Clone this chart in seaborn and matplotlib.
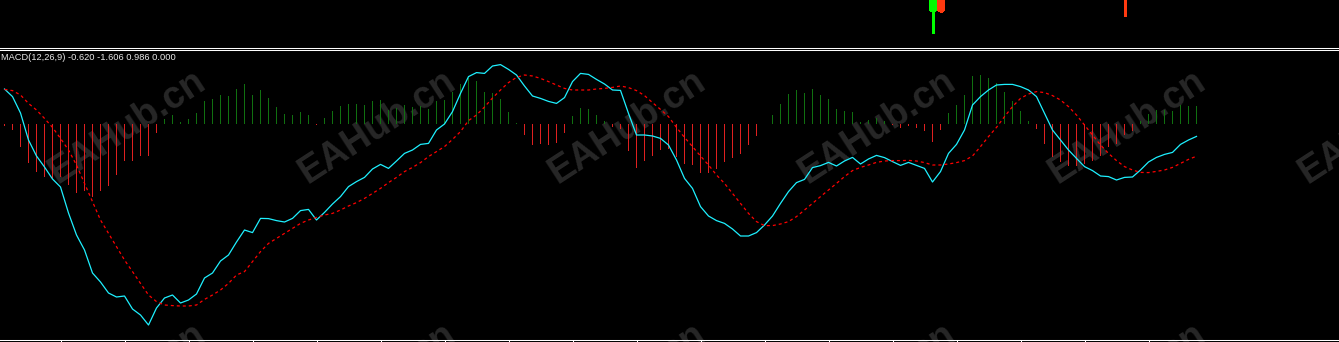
import numpy as np
import pandas as pd
import matplotlib
matplotlib.use("Agg")
import matplotlib.pyplot as plt
from matplotlib.lines import Line2D
import seaborn as sns

# ---------------- data ----------------
macd_main = [
    1.75, 1.37, 0.55, -0.80, -1.60, -2.15, -2.75, -3.15, -4.45, -5.55,
    -6.30, -7.45, -7.90, -8.45, -8.65, -8.60, -9.25, -9.55, -10.05, -9.20,
    -8.70, -8.55, -8.95, -8.80, -8.50, -7.70, -7.45, -6.85, -6.55, -5.90,
    -5.30, -5.43, -4.72, -4.73, -4.83, -4.90, -4.72, -4.33, -4.27, -4.80,
    -4.42, -4.00, -3.63, -3.13, -2.88, -2.67, -2.25, -2.02, -2.22, -1.85,
    -1.47, -1.30, -1.02, -0.97, -0.30, 0.00, 0.62, 1.53, 2.37, 2.57,
    2.53, 2.90, 2.97, 2.73, 2.45, 1.90, 1.40, 1.28, 1.13, 1.03,
    1.32, 2.12, 2.53, 2.48, 2.23, 2.00, 1.70, 1.68, 0.53, -0.55,
    -0.55, -0.60, -0.72, -1.05, -1.80, -2.72, -3.22, -4.13, -4.60, -4.83,
    -4.97, -5.25, -5.60, -5.60, -5.43, -5.05, -4.60, -3.97, -3.38, -2.93,
    -2.77, -2.18, -2.08, -1.92, -2.10, -1.85, -1.67, -2.00, -1.75, -1.57,
    -1.68, -1.88, -2.07, -1.92, -2.07, -2.22, -2.90, -2.38, -1.47, -1.02,
    -0.30, 0.95, 1.37, 1.70, 1.95, 1.98, 1.98, 1.87, 1.70, 1.37,
    0.53, -0.30, -0.80, -1.30, -1.72, -2.13, -2.33, -2.60, -2.63, -2.80,
    -2.67, -2.65, -2.30, -1.90, -1.67, -1.52, -1.42, -1.02, -0.80, -0.62,
]
macd_signal = [
    1.73, 1.67, 1.45, 1.03, 0.70, 0.28, -0.17, -0.72, -1.30, -2.05,
    -2.97, -3.88, -4.80, -5.47, -6.13, -6.80, -7.38, -7.97, -8.55, -8.88,
    -9.05, -9.08, -9.10, -9.10, -9.05, -8.77, -8.55, -8.30, -7.97, -7.55,
    -7.38, -6.88, -6.38, -5.97, -5.72, -5.47, -5.22, -4.97, -4.80, -4.67,
    -4.55, -4.47, -4.30, -4.10, -3.93, -3.72, -3.47, -3.22, -2.93, -2.67,
    -2.38, -2.17, -1.93, -1.63, -1.38, -1.13, -0.77, -0.38, 0.17, 0.45,
    0.85, 1.30, 1.70, 2.07, 2.33, 2.45, 2.40, 2.28, 2.12, 1.95,
    1.78, 1.70, 1.70, 1.70, 1.75, 1.78, 1.83, 1.90, 1.82, 1.67,
    1.42, 1.07, 0.73, 0.37, -0.17, -0.67, -1.13, -1.60, -2.05, -2.55,
    -2.97, -3.47, -3.97, -4.47, -4.88, -5.08, -5.08, -5.00, -4.88, -4.63,
    -4.30, -3.97, -3.63, -3.30, -2.97, -2.63, -2.33, -2.17, -2.05, -1.92,
    -1.85, -1.83, -1.83, -1.82, -1.85, -1.93, -2.05, -2.05, -2.00, -1.93,
    -1.83, -1.60, -1.13, -0.63, -0.17, 0.37, 0.87, 1.28, 1.50, 1.62,
    1.57, 1.42, 1.20, 0.87, 0.45, -0.05, -0.55, -1.05, -1.47, -1.83,
    -2.13, -2.30, -2.42, -2.43, -2.37, -2.30, -2.17, -1.97, -1.77, -1.61,
]
macd_hist = [
    -0.10, -0.30, -1.15, -1.95, -2.40, -2.65, -2.75, -2.65, -3.05, -3.45,
    -3.35, -3.65, -3.35, -3.10, -2.55, -1.85, -1.85, -1.60, -1.60, -0.45,
    0.25, 0.45, 0.10, 0.25, 0.55, 1.15, 1.25, 1.45, 1.40, 1.75,
    2.00, 1.45, 1.70, 1.30, 0.85, 0.50, 0.45, 0.60, 0.45, -0.05,
    0.30, 0.65, 0.90, 1.00, 1.00, 0.95, 1.15, 1.20, 0.70, 0.80,
    0.95, 0.85, 0.90, 0.75, 1.15, 1.20, 1.60, 2.00, 2.30, 2.15,
    1.60, 1.55, 1.25, 0.60, 0.05, -0.55, -1.05, -1.00, -1.05, -0.95,
    -0.45, 0.40, 0.80, 0.75, 0.45, 0.15, -0.15, -0.25, -1.35, -2.20,
    -1.85, -1.60, -1.30, -1.25, -1.65, -2.00, -2.05, -2.45, -2.45, -2.25,
    -1.90, -1.70, -1.50, -1.05, -0.60, 0.00, 0.45, 1.00, 1.50, 1.70,
    1.55, 1.75, 1.45, 1.25, 0.75, 0.65, 0.60, 0.10, 0.20, 0.30,
    0.15, -0.05, -0.20, -0.10, -0.20, -0.35, -0.90, -0.30, 0.55, 0.95,
    1.45, 2.40, 2.45, 2.30, 2.05, 1.60, 1.15, 0.65, 0.15, -0.25,
    -1.00, -1.65, -1.90, -2.10, -2.10, -2.00, -1.85, -1.60, -1.15, -1.00,
    -0.55, -0.35, 0.15, 0.50, 0.70, 0.70, 0.65, 0.95, 0.90, 0.90,
]
label_text = "MACD(12,26,9) -0.620 -1.606 0.986 0.000"
tick_bars = [7, 15, 23, 31, 39, 47, 55, 63, 71, 79, 87, 95, 103, 111, 119, 127, 135, 143]

# top price-panel candles (only their lower parts are visible)
candle_idx = [116, 117, 140]
candle_open = [1.3086, 1.3115, 1.3130]
candle_close = [1.3110, 1.3086, 1.3110]
candle_high = [1.3125, 1.3122, 1.3140]
candle_low = [1.3063, 1.3084, 1.3080]

watermark = "EAHub.cn"

# ---------------- figure ----------------
W, H = 1339, 342
fig = plt.figure(figsize=(W / 100, H / 100), dpi=100, facecolor="black")

x_left = -0.5625
x_right = W / 8 + x_left

# watermarks (behind everything)
for cy in (127, 380):
    for cx in (127, 377, 627, 877, 1127, 1377):
        fig.text(cx / W, 1 - cy / H, watermark, color="#272727", fontsize=27,
                 fontweight="bold", family="Liberation Sans", rotation=33,
                 ha="center", va="center", rotation_mode="anchor", zorder=-5)

# ---- top price panel ----
axp = fig.add_axes([0, (H - 46) / H, 1, 46 / H])
axp.set_facecolor("none")
axp.set_xlim(x_left, x_right)
axp.set_ylim(1.3050, 1.3096)
for i, o, c, hi, lo in zip(candle_idx, candle_open, candle_close, candle_high, candle_low):
    up = c >= o
    col = "#00ff00" if up else "#ff3a10"
    axp.vlines(i, lo, hi, color=col, lw=0.75, antialiased=False)
    axp.bar(i, abs(c - o), bottom=min(o, c), width=0.6,
            color=col if up else "#d82000", edgecolor=col, lw=0.75,
            antialiased=False)
axp.axis("off")

# separator lines
fig.add_artist(Line2D([0, 1], [1 - 47.5 / H] * 2, color="white", lw=0.75))
fig.add_artist(Line2D([0, 1], [1 - 49.5 / H] * 2, color="white", lw=0.75))

# ---- MACD panel ----
ax = fig.add_axes([0, 2 / H, 1, 290 / H])
ax.set_facecolor("none")

idx = np.arange(len(macd_hist))
df = pd.DataFrame({"bar": idx, "hist": macd_hist,
                   "dir": ["up" if v >= 0 else "down" for v in macd_hist]})
sns.barplot(data=df, x="bar", y="hist", hue="dir",
            palette={"up": "#008000", "down": "#ff0000"},
            native_scale=True, dodge=False, width=0.125, errorbar=None,
            legend=False, linewidth=0, antialiased=False, ax=ax)

lines_df = pd.DataFrame({"bar": idx, "main": macd_main, "signal": macd_signal})
sns.lineplot(data=lines_df, x="bar", y="main", color="#1ef0ff", lw=0.9, ax=ax)
sns.lineplot(data=lines_df, x="bar", y="signal", color="#ff0000", lw=0.9,
             linestyle=(0, (2.4, 2.4)), ax=ax)

ax.set_xlim(x_left, x_right)
ax.set_ylim(-10.8, 3.7)
ax.set_xlabel("")
ax.set_ylabel("")
for s in ("top", "left", "right"):
    ax.spines[s].set_visible(False)
ax.spines["bottom"].set_color("white")
ax.spines["bottom"].set_linewidth(0.75)
ax.set_xticks(tick_bars)
ax.set_yticks([])
ax.tick_params(axis="x", direction="out", length=2.5, width=0.75,
               color="white", labelbottom=False)

fig.text(1 / W, 1 - 58 / H, label_text, color="#e8e8e8", fontsize=6.7,
         family="Liberation Sans", ha="left", va="center")

fig.savefig("out.png", dpi=100, facecolor="black")
